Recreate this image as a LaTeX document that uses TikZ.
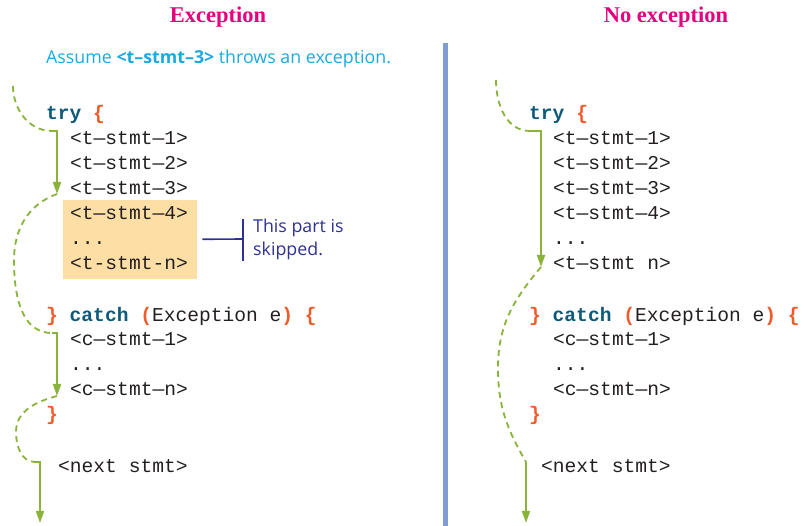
\documentclass[tikz,border=0pt]{standalone}
\usepackage{fontspec}
\setmainfont{Liberation Serif}
\newfontfamily\codefont{Liberation Mono}
\newfontfamily\notefont{Open Sans}
\usepackage{tikz}
\usetikzlibrary{arrows.meta,positioning,calc}
\definecolor{cCode}{HTML}{231F20}
\definecolor{cKey}{HTML}{0E5A7A}
\definecolor{cBrace}{HTML}{F15A29}
\definecolor{cTitle}{HTML}{E6007E}
\definecolor{cCyan}{HTML}{1BA9E1}
\definecolor{cNote}{HTML}{2E3192}
\definecolor{cGreen}{HTML}{8AB33A}
\definecolor{cSkip}{HTML}{FDDFA5}
\definecolor{cSep}{HTML}{7F9ECF}
\newcommand{\kwd}[1]{\textbf{\textcolor{cKey}{#1}}}
\newcommand{\brc}[1]{\textbf{\textcolor{cBrace}{#1}}}
\tikzset{
  code/.style={font=\codefont\fontsize{19.6}{24}\selectfont,text=cCode,anchor=base west,inner sep=0pt},
  ttl/.style={font=\bfseries\fontsize{22.5}{26}\selectfont,text=cTitle,anchor=base,inner sep=0pt},
  note/.style={font=\notefont\fontsize{17.8}{22}\selectfont,anchor=base west,inner sep=0pt},
  flow/.style={line width=1.8pt,color=cGreen},
  jump/.style={flow,dash pattern=on 6pt off 4.5pt},
  arr/.style={flow,-{Triangle[length=12pt,width=8pt]}},
  skipbox/.style={fill=cSkip,inner sep=0pt,anchor=south west},
}

\begin{document}
\begin{tikzpicture}[x=1pt,y=1pt]
  \useasboundingbox (0,0) rectangle (807,526);
  % separator
  \draw[cSep,line width=4.5pt] (445.5,483) -- (445.5,0);
  \node[ttl] (tex) at (218,503) {Exception};
  \node[ttl] (tno) at (666,503) {No exception};
  \node[note,text=cCyan] (assume) at (46,462) {Assume \textbf{<t–stmt–3>} throws an exception.};

  % left: exception thrown
  \node[skipbox,minimum width=134pt,minimum height=79pt] (skip) at (63,247) {};
  \node[code] (ltry) at (46,406) {\kwd{try} \brc{\{}};
  \foreach \i/\y in {1/381,2/356,3/331,4/306}{
    \node[code] (lt\i) at (70,\y) {<t—stmt—\i>};}
  \node[code] (ltd) at (70,281) {...};
  \node[code] (ltn) at (70,256) {<t-stmt-n>};
  \node[code] (lcatch) at (46,204) {\brc{\}} \kwd{catch} \brc{(}Exception e\brc{)} \brc{\{}};
  \node[code] (lc1) at (70,180) {<c—stmt—1>};
  \node[code] (lcd) at (70,155) {...};
  \node[code] (lcn) at (70,130) {<c—stmt—n>};
  \node[code] (lend) at (46,105) {\brc{\}}};
  \node[code] (lnext) at (58,53) {<next stmt>};

  \node[note,text=cNote] (skipnote) at (253,293) {This part is};
  \node[note,text=cNote] (skipnote2) at (253,270) {skipped.};
  \coordinate (brk) at (243,287);
  \draw[cNote,line width=1.6pt] ([xshift=5pt]skip.east) -- (brk);
  \draw[cNote,line width=1.6pt] ($(brk)+(0,20)$) -- ($(brk)+(0,-22)$);

  \coordinate (L0) at (13,440);
  \coordinate (L1) at (52,395);
  \coordinate (L1a) at (57,395);
  \coordinate (L2) at (57,332);
  \coordinate (L3) at (52,193);
  \coordinate (L3a) at (57,193);
  \coordinate (L4) at (57,130);
  \coordinate (L5) at (35,64);
  \coordinate (L5a) at (40,64);
  \coordinate (L6) at (40,3);
  \draw[jump] (L0) to[out=-90,in=180] (L1);
  \draw[arr] (L1) -- (L1a) -- (L2);
  \draw[jump] (L2) to[out=200,in=90] (14,266) to[out=-90,in=180] (L3);
  \draw[arr] (L3) -- (L3a) -- (L4);
  \draw[jump] (L4) to[out=195,in=90] (16,94) to[out=-90,in=180] (L5);
  \draw[arr] (L5) -- (L5a) -- (L6);

  % right: no exception
  \node[code] (rtry) at (529,406) {\kwd{try} \brc{\{}};
  \foreach \i/\y in {1/381,2/356,3/331,4/306}{
    \node[code] (rt\i) at (553,\y) {<t—stmt—\i>};}
  \node[code] (rtd) at (553,281) {...};
  \node[code] (rtn) at (553,256) {<t—stmt n>};
  \node[code] (rcatch) at (529,204) {\brc{\}} \kwd{catch} \brc{(}Exception e\brc{)} \brc{\{}};
  \node[code] (rc1) at (553,180) {<c—stmt—1>};
  \node[code] (rcd) at (553,155) {...};
  \node[code] (rcn) at (553,130) {<c—stmt—n>};
  \node[code] (rend) at (529,105) {\brc{\}}};
  \node[code] (rnext) at (541,53) {<next stmt>};

  \coordinate (R0) at (496,446);
  \coordinate (R1) at (530,395);
  \coordinate (R1a) at (541,395);
  \coordinate (R2) at (541,259);
  \coordinate (R3) at (526,64);
  \coordinate (R4) at (526,3);
  \draw[jump] (R0) to[out=-90,in=180] (R1);
  \draw[arr] (R1) -- (R1a) -- (R2);
  \draw[jump] (R2) to[out=230,in=90] (498,158) to[out=-90,in=120] (R3);
  \draw[arr] (R3) -- (R4);
\end{tikzpicture}
\end{document}
